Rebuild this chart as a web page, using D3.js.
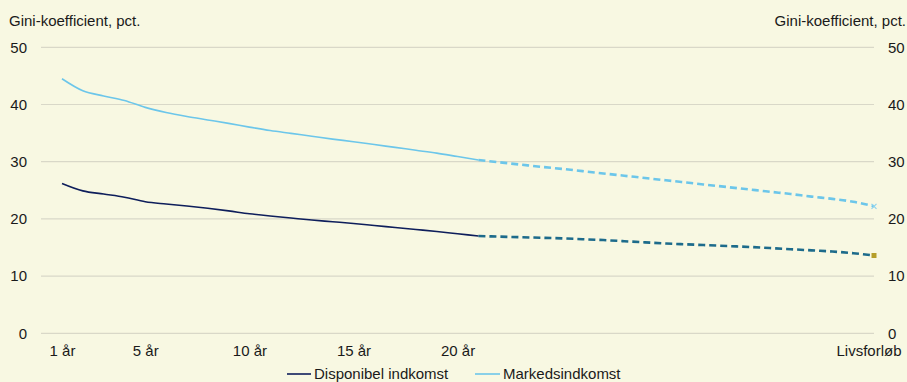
<!DOCTYPE html>
<html><head><meta charset="utf-8">
<script src="https://cdn.jsdelivr.net/npm/d3@7"></script>
<style>
html,body{margin:0;padding:0;background:#F8F8E2;}
svg{display:block;font-family:"Liberation Sans",Arial,sans-serif;}
</style></head>
<body><svg id="c" width="907" height="382"></svg>
<script>
// Data
const years = [1,2,3,4,5,6,7,8,9,10,11,12,13,14,15,16,17,18,19,20,21];
const disponibel = [26.2,24.9,24.35,23.8,23.0,22.6,22.25,21.85,21.4,20.9,20.5,20.15,19.8,19.5,19.2,18.85,18.5,18.15,17.8,17.4,17.0];
const markeds = [44.5,42.4,41.5,40.7,39.5,38.6,37.9,37.3,36.7,36.05,35.45,34.95,34.45,33.95,33.5,33.0,32.5,32.0,31.5,30.9,30.3];
const projPos = [21,22,23,24,25,26,27,28,29,30,31,32,33,34,35,36,37,38,39,40];
const disponibelProj = [17.0,16.9,16.8,16.7,16.6,16.45,16.3,16.1,15.9,15.7,15.55,15.4,15.25,15.1,14.9,14.7,14.5,14.3,14.0,13.6];
const markedsProj = [30.3,29.9,29.5,29.1,28.75,28.35,27.95,27.55,27.15,26.75,26.35,25.95,25.55,25.15,24.75,24.35,23.9,23.5,23.0,22.2];
const tickPos = [1,5,10,15,20,40];
const tickLabels = ["1 år","5 år","10 år","15 år","20 år","Livsforløb"];
const yTicks = [0,10,20,30,40,50];
const seriesNames = ["Disponibel indkomst","Markedsindkomst"];
const axisTitle = "Gini-koefficient, pct.";

const svg = d3.select("#c");
const x = d3.scaleLinear().domain([1,40]).range([62,874]);
const y = d3.scaleLinear().domain([0,50]).range([333.3,47.3]);
const gridX0 = 41, gridX1 = 874;
const fs = "15px";

// grid
svg.append("g").selectAll("line").data(yTicks).join("line")
  .attr("x1",gridX0).attr("x2",gridX1)
  .attr("y1",d=>y(d)).attr("y2",d=>y(d))
  .attr("stroke","#D9D8C8").attr("stroke-width",1.2);

// left axis
const gl = svg.append("g").attr("transform","translate(27,0)")
  .call(d3.axisLeft(y).tickValues(yTicks).tickSize(0).tickPadding(0));
gl.select(".domain").remove();
gl.selectAll("text").attr("font-size",fs).attr("fill","#1a1a1a").attr("font-family",null);

// right axis
const gr = svg.append("g").attr("transform","translate(888,0)")
  .call(d3.axisRight(y).tickValues(yTicks).tickSize(0).tickPadding(0));
gr.select(".domain").remove();
gr.selectAll("text").attr("font-size",fs).attr("fill","#1a1a1a").attr("font-family",null);

// bottom axis
const gb = svg.append("g").attr("transform","translate(0,341)")
  .call(d3.axisBottom(x).tickValues(tickPos).tickFormat((d,i)=>tickLabels[i]).tickSize(0).tickPadding(0));
gb.select(".domain").remove();
gb.selectAll("text").attr("font-size",fs).attr("fill","#1a1a1a").attr("font-family",null).attr("dy","1em");
gb.selectAll(".tick").filter(d=>d===40).select("text").attr("text-anchor","end").attr("x",27);

// titles
svg.append("text").attr("x",9).attr("y",26).attr("font-size",fs).attr("fill","#1a1a1a").text(axisTitle);
svg.append("text").attr("x",906).attr("y",26).attr("text-anchor","end").attr("font-size",fs).attr("fill","#1a1a1a").text(axisTitle);

const line = d3.line().x(d=>x(d[0])).y(d=>y(d[1])).curve(d3.curveMonotoneX);

// projections (dashed)
svg.append("path").attr("d",line(projPos.map((p,i)=>[p,markedsProj[i]])))
  .attr("fill","none").attr("stroke","#6CC6EA").attr("stroke-width",2.6).attr("stroke-dasharray","7,4");
svg.append("path").attr("d",line(projPos.map((p,i)=>[p,disponibelProj[i]])))
  .attr("fill","none").attr("stroke","#1D6B8B").attr("stroke-width",2.6).attr("stroke-dasharray","7,4");

// solid lines
svg.append("path").attr("d",line(years.map((p,i)=>[p,markeds[i]])))
  .attr("fill","none").attr("stroke","#6CC6EA").attr("stroke-width",1.6);
svg.append("path").attr("d",line(years.map((p,i)=>[p,disponibel[i]])))
  .attr("fill","none").attr("stroke","#0E1E5B").attr("stroke-width",1.6);

// end markers
const mx = x(40), my = y(markedsProj[markedsProj.length-1]);
svg.append("path").attr("d",`M${mx-2.5},${my-2.5}L${mx+2.5},${my+2.5}M${mx-2.5},${my+2.5}L${mx+2.5},${my-2.5}`)
  .attr("stroke","#8FD3EE").attr("stroke-width",1.2);
const dx = x(40), dy = y(disponibelProj[disponibelProj.length-1]);
svg.append("rect").attr("x",dx-2.5).attr("y",dy-2.5).attr("width",5).attr("height",5).attr("fill","#B59E2A");

// legend
const leg = [{name:seriesNames[0],color:"#0E1E5B",x0:287,x1:311,tx:314},{name:seriesNames[1],color:"#6CC6EA",x0:475,x1:500,tx:503}];
const lg = svg.append("g");
lg.selectAll("line").data(leg).join("line").attr("x1",d=>d.x0).attr("x2",d=>d.x1).attr("y1",374).attr("y2",374)
  .attr("stroke",d=>d.color).attr("stroke-width",1.6);
lg.selectAll("text").data(leg).join("text").attr("x",d=>d.tx).attr("y",379).attr("font-size",fs).attr("fill","#1a1a1a").text(d=>d.name);
</script></body></html>
